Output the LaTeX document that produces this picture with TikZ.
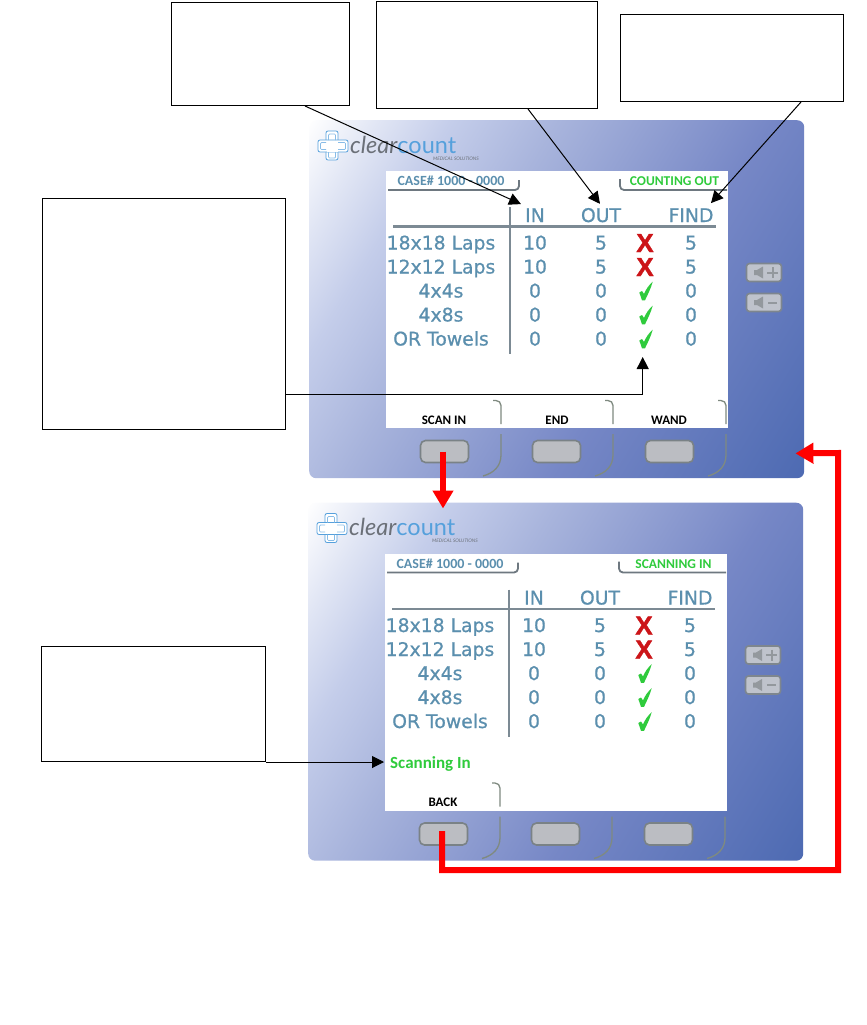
\documentclass[tikz,border=0pt]{standalone}
\usepackage{fontspec}
\setmainfont{DejaVu Sans}
\newfontfamily\carl{Carlito}
\newfontfamily\logofont{Lato}
\newfontfamily\tabfont{DejaVu Sans}[FakeBold=0.7]
\newfontfamily\xfont{Liberation Sans}[BoldFeatures={FakeBold=1.5}]
\usetikzlibrary{arrows.meta}
\definecolor{teal1}{HTML}{5B8FAE}
\definecolor{rule1}{HTML}{7C8A94}
\definecolor{brk}{HTML}{7F8A80}
\definecolor{grn}{HTML}{2FCB3C}
\definecolor{logob}{HTML}{55A0DC}
\definecolor{logog}{HTML}{6B7078}
\definecolor{xred}{HTML}{CC1418}
\definecolor{ramp1}{HTML}{E0E5F4}
\definecolor{ramp2}{HTML}{C4CDEA}
\definecolor{ramp3}{HTML}{A8B4DC}
\definecolor{ramp4}{HTML}{7687C6}
\definecolor{ramp5}{HTML}{4D6AB2}
\definecolor{btnline}{HTML}{7A8286}
\definecolor{btnfill}{HTML}{BBBDC2}
\definecolor{volline}{HTML}{7E868E}
\definecolor{volfill}{HTML}{BFC3CC}
\definecolor{volicon}{HTML}{93989D}
\definecolor{headline}{HTML}{6E7880}
\pgfdeclarehorizontalshading{panelramp}{100bp}{color(0bp)=(white); color(15.6bp)=(white); color(22.5bp)=(ramp1); color(29.4bp)=(ramp2); color(39.7bp)=(ramp3); color(60.3bp)=(ramp4); color(84.4bp)=(ramp5); color(100bp)=(ramp5)}
\tikzset{
  x=1pt,y=-1pt,
  callout/.style={draw=black,line width=1pt,fill=white,inner sep=0,anchor=north west},
  panelbox/.style={rounded corners=7pt,inner sep=0,anchor=north west,minimum width=495pt,minimum height=358pt,
    shading=panelramp,shading angle=-31.5},
  screen/.style={fill=white,inner sep=0,anchor=north west,minimum width=342pt,minimum height=257pt},
  tabletxt/.style={text=teal1,font=\tabfont\fontsize{18.8}{18.8}\selectfont,inner sep=1pt,anchor=base},
  softlab/.style={text=black,font=\carl\bfseries\fontsize{13}{13}\selectfont,inner sep=1pt,anchor=base},
  hdr/.style={text=teal1,font=\carl\bfseries\fontsize{14}{14}\selectfont,inner sep=1pt,anchor=base},
  status/.style={text=grn,font=\carl\bfseries\fontsize{13.5}{13.5}\selectfont,inner sep=1pt,anchor=base},
  softbtn/.style={draw=btnline,line width=1.6pt,fill=btnfill,rounded corners=5pt,inner sep=0,minimum width=48pt,minimum height=22pt},
  volbtn/.style={draw=volline,line width=1.6pt,fill=volfill,rounded corners=3pt,inner sep=0,minimum width=35pt,minimum height=18pt},
  bracket/.style={draw=brk,line width=1.3pt},
  headbr/.style={draw=headline,line width=1.8pt},
  tablerule/.style={draw=rule1,line width=2.2pt},
  thin arrow/.style={draw=black,line width=1pt,-{Triangle[length=12pt,width=12pt]}},
  red arrow/.style={draw=red,line width=6pt,-{Triangle[length=18pt,width=20pt]},line join=miter},
  xmark/.style={text=xred,font=\xfont\bfseries\fontsize{26}{26}\selectfont,inner sep=0,anchor=base},
}
% #1 prefix, #2 dx, #3 dy, #4 status text
\newcommand{\devpanel}[4]{%
\begin{scope}[shift={(#2,#3)},name prefix=#1-]
  \node[panelbox] (panel) at (309,120) {};
  \node[screen] (screen) at (386,171) {};
  % logo
  \draw[logob,line width=.8pt,fill=white,rounded corners=2pt] (326,131) rectangle (338,160);
  \draw[logob,line width=.8pt,fill=white,rounded corners=2pt] (318,140) rectangle (348,152);
  \draw[logob!70,line width=.7pt,rounded corners=1pt] (328.5,140) -- (328.5,134) -- (335.5,134) -- (335.5,140)
     (328.5,152) -- (328.5,158) -- (335.5,158) -- (335.5,152)
     (326,142.5) -- (320.5,142.5) -- (320.5,149.5) -- (326,149.5)
     (338,142.5) -- (345.5,142.5) -- (345.5,149.5) -- (338,149.5);
  \fill[white] (326.5,140.5) rectangle (337.5,151.5);
  \node[anchor=base west,inner sep=0,font=\logofont\fontsize{23.5}{23.5}\selectfont] (logo) at (350,153) {\textcolor{logog}{\itshape clear}\textcolor{logob}{count}};
  \node[anchor=base west,inner sep=0,text=logog,font=\logofont\itshape\fontsize{4.8}{4.8}\selectfont] (logosub) at (433,160) {MEDICAL SOLUTIONS};
  % header
  \node[hdr] (case) at (451,185.5) {CASE\# 1000 - 0000};
  \node[status] (st) at (674.5,185.5) {#4};
  \draw[headbr,rounded corners=4pt] (388,190) -- (519,190) -- (519,180);
  \draw[headbr,rounded corners=4pt] (620,179) -- (620,190) -- (727,190);
  % table
  \draw[tablerule] (510,207) -- (510,354);
  \draw[tablerule] (393,226.5) -- (716,226.5);
  \node[tabletxt] (in) at (535,222) {IN};
  \node[tabletxt] (out) at (601,222) {OUT};
  \node[tabletxt] (find) at (691,222) {FIND};
  \foreach \r/\y/\lab/\ci/\co/\cf in {1/249.5/18x18 Laps/10/5/5,2/273.5/12x12 Laps/10/5/5,3/297.5/4x4s/0/0/0,4/321.5/4x8s/0/0/0,5/345.5/OR Towels/0/0/0}{
    \node[tabletxt] (lab\r) at (441,\y) {\lab};
    \node[tabletxt] (vi\r) at (535,\y) {\ci};
    \node[tabletxt] (vo\r) at (601,\y) {\co};
    \node[tabletxt] (vf\r) at (691,\y) {\cf};
  }
  \node[xmark] (m1) at (645,252) {X};
  \node[xmark] (m2) at (645,276) {X};
  \foreach \r/\y in {3/291,4/315,5/339}{
    \coordinate (m\r) at (645,\y);
    \fill[grn,shift={(645,\y)}] (-5.7,1.5) -- (-3,0) -- (-1,3) .. controls (1,-2) and (4,-6) .. (7.7,-9.3)
       .. controls (6,-3) and (3,3) .. (0,9.3) -- (-3,9.3) -- cycle;
  }
  % lower brackets and buttons
  \foreach \i/\bx/\cx in {1/501/444.5,2/613/556.5,3/726/669.5}{
    \draw[bracket] (\bx,434) -- (\bx,455) .. controls (\bx,466) and (\bx-7,473) .. (\bx-18,476);
    \node[softbtn] (b\i) at (\cx,451.5) {};
  }
  % volume
  \node[volbtn] (vp) at (764,272.5) {};
  \node[volbtn] (vm) at (764,302.5) {};
  \foreach \y in {272.5,302.5}{
    \fill[volicon] (754,\y-2.5) -- (757,\y-2.5) -- (763,\y-6) -- (763,\y+6) -- (757,\y+2.5) -- (754,\y+2.5) -- cycle;
  }
  \draw[volicon,line width=2pt] (767,272.5) -- (778,272.5) (772.5,267) -- (772.5,278);
  \draw[volicon,line width=2pt] (768,302.5) -- (777,302.5);
\end{scope}}
\begin{document}
\begin{tikzpicture}
\useasboundingbox (0,0) rectangle (867,1025);
\devpanel{p1}{0}{0}{COUNTING OUT}
\devpanel{p2}{-1}{382.5}{SCANNING IN}
% soft key labels, first panel
\foreach \bx in {501,613,726}{
  \draw[bracket,rounded corners=5pt] (\bx-8,400.5) -- (\bx,400.5) -- (\bx,424);
}
\node[softlab] (sl1) at (444,424) {SCAN IN};
\node[softlab] (sl2) at (557,424) {END};
\node[softlab] (sl3) at (669,424) {WAND};
% second panel
\draw[bracket,rounded corners=5pt] (492,783) -- (500,783) -- (500,806.5);
\node[softlab] (sl4) at (443,806.5) {BACK};
\node[anchor=base west,inner sep=1pt,text=grn,font=\carl\bfseries\fontsize{17}{17}\selectfont] (scan) at (389,768.5) {Scanning In};
% callouts
\node[callout,minimum width=178pt,minimum height=103pt] (c1) at (171,2) {};
\node[callout,minimum width=221pt,minimum height=107pt] (c2) at (376,1) {};
\node[callout,minimum width=223pt,minimum height=87pt] (c3) at (620,14) {};
\node[callout,minimum width=243pt,minimum height=231pt] (c4) at (42,198) {};
\node[callout,minimum width=224pt,minimum height=115pt] (c5) at (41,646) {};
% connectors
\draw[thin arrow] ([xshift=134pt]c1.south west) -- ([shift={(-3,-3)}]p1-in.north west);
\draw[thin arrow] ([xshift=152pt]c2.south west) -- ([shift={(-1,-3)}]p1-out.north);
\draw[thin arrow] ([xshift=-43pt]c3.south east) -- ([shift={(20,-4)}]p1-find.north);
\draw[thin arrow] ([yshift=36pt]c4.south east) -| ([shift={(-2.3,18)}]p1-m5);
\draw[thin arrow] (c5.south east) -- ([xshift=-5pt]scan.west |- c5.south east);
\draw[red arrow] ([xshift=-1.5pt]p1-b1.center) -- ([xshift=135pt,yshift=-6pt]p2-panel.north west);
\draw[red arrow] ([xshift=-1.5pt,yshift=3pt]p2-b1.center) -- ++(0,39) -| (838,453) -- ([shift={(-9,-25)}]p1-panel.south east);
\end{tikzpicture}
\end{document}
